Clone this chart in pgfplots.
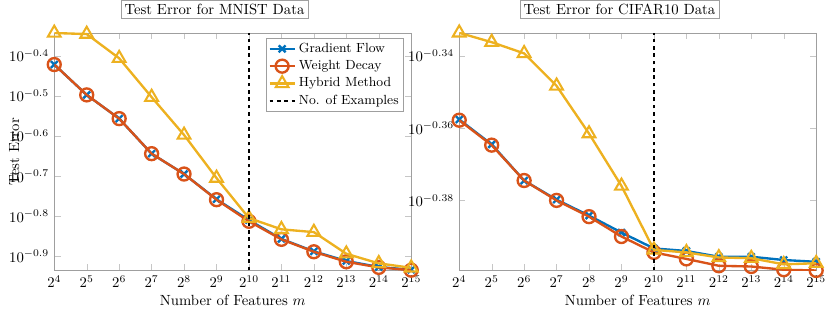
\documentclass[border=0pt]{standalone}
\usepackage{pgfplots}
\pgfplotsset{compat=1.18}
\definecolor{c1}{rgb}{0,0.447,0.741}
\definecolor{c2}{rgb}{0.85,0.325,0.098}
\definecolor{c3}{rgb}{0.929,0.694,0.125}
\tikzset{
gfs/.style={c1, line width=1.6pt, mark=x, mark size=3.3pt, mark options={solid, line width=1.6pt}},
wds/.style={c2, line width=1.6pt, mark=o, mark size=4.4pt, mark options={solid, line width=1.6pt}},
hys/.style={c3, line width=1.6pt, mark=triangle, mark size=5pt, mark options={solid, line width=1.4pt}},
}
\begin{document}
\begin{tikzpicture}
\begin{axis}[
  scale only axis, width=242.4pt, height=161.4pt,
  xmode=log, log basis x=2, xmin=16, xmax=32768,
  xtick={16,32,64,128,256,512,1024,2048,4096,8192,16384,32768},
  axis line style={gray!75}, tick style={gray!45},
  xlabel={Number of Features $m$},
  xlabel style={yshift=2pt},
  title style={draw=gray!75, fill=white, at={(0.449,1)}, anchor=south, yshift=3.5pt, inner sep=2.5pt},
  clip mode=individual,
  legend style={draw=gray!75, inner sep=1.5pt, font=\small},
  legend cell align=left,
  title={Test Error for MNIST Data},
  ymin=-0.9357, ymax=-0.3425,
  ytick={-0.9,-0.8,-0.7,-0.6,-0.5,-0.4},
  yticklabels={$10^{-0.9}$,$10^{-0.8}$,$10^{-0.7}$,$10^{-0.6}$,$10^{-0.5}$,$10^{-0.4}$},
  ylabel={Test Error},
  ylabel style={at={(axis description cs:-0.112,0.5)}, anchor=center},
]
\path (rel axis cs:-0.152,0.5);
\addplot[gfs] coordinates {(16,-0.4217) (32,-0.4975) (64,-0.5567) (128,-0.6442) (256,-0.695) (512,-0.758) (1024,-0.810) (2048,-0.857) (4096,-0.888) (8192,-0.912) (16384,-0.927) (32768,-0.934)};
\addlegendentry{Gradient Flow}
\addplot[wds] coordinates {(16,-0.4217) (32,-0.4975) (64,-0.5567) (128,-0.6442) (256,-0.695) (512,-0.759) (1024,-0.813) (2048,-0.858) (4096,-0.889) (8192,-0.914) (16384,-0.928) (32768,-0.935)};
\addlegendentry{Weight Decay}
\addplot[hys] coordinates {(16,-0.343) (32,-0.3457) (64,-0.406) (128,-0.503) (256,-0.5975) (512,-0.705) (1024,-0.805) (2048,-0.833) (4096,-0.840) (8192,-0.894) (16384,-0.918) (32768,-0.929)};
\addlegendentry{Hybrid Method}
\addplot[black, dash pattern=on 2.5pt off 2.5pt, line width=1pt] coordinates {(1024,-0.9357) (1024,-0.3425)};
\addlegendentry{No. of Examples}
\end{axis}
\begin{axis}[xshift=275pt,
  scale only axis, width=242.4pt, height=161.4pt,
  xmode=log, log basis x=2, xmin=16, xmax=32768,
  xtick={16,32,64,128,256,512,1024,2048,4096,8192,16384,32768},
  axis line style={gray!75}, tick style={gray!45},
  xlabel={Number of Features $m$},
  xlabel style={yshift=2pt},
  title style={draw=gray!75, fill=white, at={(0.449,1)}, anchor=south, yshift=3.5pt, inner sep=2.5pt},
  clip mode=individual,
  title={Test Error for CIFAR10 Data},
  ymin=-0.3994, ymax=-0.3336,
  ytick={-0.38,-0.36,-0.34},
  yticklabels={$10^{-0.38}$,$10^{-0.36}$,$10^{-0.34}$},
]
\addplot[gfs] coordinates {(16,-0.3576) (32,-0.3645) (64,-0.3745) (128,-0.3798) (256,-0.3842) (512,-0.3889) (1024,-0.3933) (2048,-0.3940) (4096,-0.3956) (8192,-0.3956) (16384,-0.3965) (32768,-0.3970)};
\addplot[wds] coordinates {(16,-0.3578) (32,-0.3647) (64,-0.3745) (128,-0.3800) (256,-0.3845) (512,-0.3900) (1024,-0.3944) (2048,-0.3962) (4096,-0.3981) (8192,-0.3983) (16384,-0.3992) (32768,-0.3994)};
\addplot[hys] coordinates {(16,-0.3336) (32,-0.3362) (64,-0.3393) (128,-0.3483) (256,-0.3615) (512,-0.3760) (1024,-0.3937) (2048,-0.3944) (4096,-0.3958) (8192,-0.3960) (16384,-0.3977) (32768,-0.3974)};
\addplot[black, dash pattern=on 2.5pt off 2.5pt, line width=1pt] coordinates {(1024,-0.3994) (1024,-0.3336)};
\end{axis}
\end{tikzpicture}
\end{document}
